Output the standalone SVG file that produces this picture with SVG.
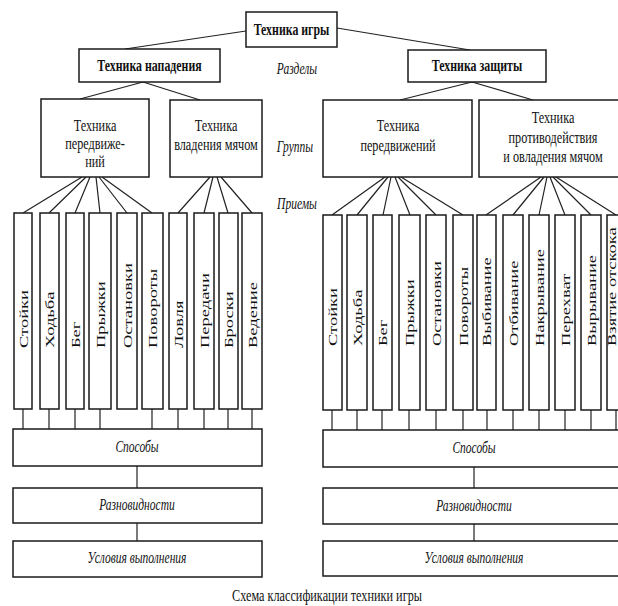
<svg xmlns="http://www.w3.org/2000/svg" width="618" height="606" viewBox="0 0 618 606">
<style>
.box{fill:#fff;stroke:#1a1a1a;stroke-width:1.5}
.ln{stroke:#222;stroke-width:1.2;fill:none}
text{font-family:"Liberation Serif","Times New Roman",serif;fill:#111}
.b{font-size:16.5px;font-weight:bold;text-anchor:middle}
.r{font-size:17px;text-anchor:middle}
.i{font-size:16px;font-style:italic;text-anchor:middle}
.v{font-size:18.5px}
</style>
<rect width="618" height="606" fill="#fff"/>
<g id="connectors" class="ln">
<path d="M246,31L125,49M337,28L470,50"/>
<path d="M143,82L80,99M143,82L200,100M472,82L400,100M472,82L533,100"/>
<path d="M82,177L23,213M86,177L49,213M90,177L75,213M96,177L100,213M99,177L127,213M102,177L152,213"/>
<path d="M210,177L178,213M213,177L204,213M217,177L228,213M221,177L252,213"/>
<path d="M385,177L332,215M388,177L357,215M391,177L383,215M395,177L410,215M398,177L436,215M401,177L463,215"/>
<path d="M541,177L486,215M544,177L513,215M547,177L539,215M550,177L565,215M553,177L591,215M556,177L616,215"/>
<path d="M23,409V429M49,409V429M75,409V429M100,409V429M152,409V429M178,409V429M204,409V429M228,409V429M252,409V429"/>
<path d="M332,410V430M357,410V430M382,410V430M409,410V430M436,410V430M463,410V430M487,410V430M513,410V430M539,410V430M565,410V430M591,410V430M616,410V430"/>
<path d="M137,466V488M137,523V541M474,467V488M474,524V541"/>
</g>
<g id="root"><rect class="box" x="246" y="12" width="91" height="35"/><text class="b" transform="translate(291.5,35) scale(0.72,1)">Техника игры</text></g>
<g id="attack"><rect class="box" x="79" y="49" width="141" height="33"/><text class="b" transform="translate(149.5,71) scale(0.72,1)">Техника нападения</text></g>
<g id="defense"><rect class="box" x="408" y="50" width="138" height="32"/><text class="b" transform="translate(477,71) scale(0.72,1)">Техника защиты</text></g>
<g id="labels">
<text class="i" transform="translate(297,74) scale(0.72,1)">Разделы</text>
<text class="i" transform="translate(295,152) scale(0.72,1)">Группы</text>
<text class="i" transform="translate(297,209) scale(0.72,1)">Приемы</text>
</g>
<g id="g-att-move"><rect class="box" x="41" y="99" width="108" height="78"/><text class="r" transform="translate(95,131) scale(0.72,1)"><tspan x="0">Техника</tspan><tspan x="0" dy="18">передвиже-</tspan><tspan x="0" dy="18">ний</tspan></text></g>
<g id="g-att-ball"><rect class="box" x="170" y="100" width="92" height="77"/><text class="r" transform="translate(216,131) scale(0.72,1)"><tspan x="0">Техника</tspan><tspan x="0" dy="19">владения мячом</tspan></text></g>
<g id="g-def-move"><rect class="box" x="323" y="100" width="149" height="77"/><text class="r" transform="translate(398,131) scale(0.72,1)"><tspan x="0">Техника</tspan><tspan x="0" dy="20">передвижений</tspan></text></g>
<g id="g-def-ball"><rect class="box" x="479" y="100" width="147" height="77"/><text class="r" transform="translate(553,123) scale(0.72,1)"><tspan x="0">Техника</tspan><tspan x="0" dy="20">противодействия</tspan><tspan x="0" dy="19">и овладения мячом</tspan></text></g>
<g id="cols-left">
<g id="c-l1"><rect class="box" x="14" y="213" width="18" height="196"/><text class="v" transform="translate(27.5,348) rotate(-90) scale(1,0.7)">Стойки</text></g>
<g id="c-l2"><rect class="box" x="40" y="213" width="19" height="196"/><text class="v" transform="translate(54,348) rotate(-90) scale(1,0.7)">Ходьба</text></g>
<g id="c-l3"><rect class="box" x="66" y="213" width="18" height="196"/><text class="v" transform="translate(79.5,348) rotate(-90) scale(1,0.7)">Бег</text></g>
<g id="c-l4"><rect class="box" x="89" y="213" width="22" height="196"/><text class="v" transform="translate(104.5,348) rotate(-90) scale(1,0.7)">Прыжки</text></g>
<g id="c-l5"><rect class="box" x="117" y="213" width="20" height="196"/><text class="v" transform="translate(131.5,348) rotate(-90) scale(1,0.7)">Остановки</text></g>
<g id="c-l6"><rect class="box" x="142" y="213" width="21" height="196"/><text class="v" transform="translate(157,348) rotate(-90) scale(1,0.7)">Повороты</text></g>
<g id="c-l7"><rect class="box" x="169" y="213" width="18" height="196"/><text class="v" transform="translate(182.5,348) rotate(-90) scale(1,0.7)">Ловля</text></g>
<g id="c-l8"><rect class="box" x="194" y="213" width="20" height="196"/><text class="v" transform="translate(208.5,348) rotate(-90) scale(1,0.7)">Передачи</text></g>
<g id="c-l9"><rect class="box" x="219" y="213" width="19" height="196"/><text class="v" transform="translate(233,348) rotate(-90) scale(1,0.7)">Броски</text></g>
<g id="c-l10"><rect class="box" x="242" y="213" width="20" height="196"/><text class="v" transform="translate(256.5,348) rotate(-90) scale(1,0.7)">Ведение</text></g>
</g>
<g id="cols-right">
<g id="c-r1"><rect class="box" x="323" y="215" width="19" height="195"/><text class="v" transform="translate(337,346) rotate(-90) scale(1,0.7)">Стойки</text></g>
<g id="c-r2"><rect class="box" x="347" y="215" width="20" height="195"/><text class="v" transform="translate(361.5,346) rotate(-90) scale(1,0.7)">Ходьба</text></g>
<g id="c-r3"><rect class="box" x="373" y="215" width="19" height="195"/><text class="v" transform="translate(387,346) rotate(-90) scale(1,0.7)">Бег</text></g>
<g id="c-r4"><rect class="box" x="399" y="215" width="21" height="195"/><text class="v" transform="translate(414,346) rotate(-90) scale(1,0.7)">Прыжки</text></g>
<g id="c-r5"><rect class="box" x="426" y="215" width="20" height="195"/><text class="v" transform="translate(440.5,346) rotate(-90) scale(1,0.7)">Остановки</text></g>
<g id="c-r6"><rect class="box" x="453" y="215" width="20" height="195"/><text class="v" transform="translate(467.5,346) rotate(-90) scale(1,0.7)">Повороты</text></g>
<g id="c-r7"><rect class="box" x="477" y="215" width="19" height="195"/><text class="v" transform="translate(491,346) rotate(-90) scale(1,0.7)">Выбивание</text></g>
<g id="c-r8"><rect class="box" x="503" y="215" width="20" height="195"/><text class="v" transform="translate(517.5,346) rotate(-90) scale(1,0.7)">Отбивание</text></g>
<g id="c-r9"><rect class="box" x="529" y="215" width="20" height="195"/><text class="v" transform="translate(543.5,346) rotate(-90) scale(1,0.7)">Накрывание</text></g>
<g id="c-r10"><rect class="box" x="555" y="215" width="20" height="195"/><text class="v" transform="translate(569.5,346) rotate(-90) scale(1,0.7)">Перехват</text></g>
<g id="c-r11"><rect class="box" x="581" y="215" width="20" height="195"/><text class="v" transform="translate(595.5,346) rotate(-90) scale(1,0.7)">Вырывание</text></g>
<g id="c-r12"><rect class="box" x="607" y="215" width="20" height="195"/><text class="v" transform="translate(616,346) rotate(-90) scale(1,0.7)">Взятие отскока</text></g>
</g>
<g id="ways-l"><rect class="box" x="13" y="429" width="249" height="37"/><text class="i" transform="translate(137,452) scale(0.72,1)">Способы</text></g>
<g id="kinds-l"><rect class="box" x="13" y="488" width="249" height="35"/><text class="i" transform="translate(137,510) scale(0.72,1)">Разновидности</text></g>
<g id="cond-l"><rect class="box" x="13" y="541" width="249" height="36"/><text class="i" transform="translate(137,563) scale(0.72,1)">Условия выполнения</text></g>
<g id="ways-r"><rect class="box" x="323" y="430" width="303" height="37"/><text class="i" transform="translate(474,453) scale(0.72,1)">Способы</text></g>
<g id="kinds-r"><rect class="box" x="323" y="488" width="303" height="36"/><text class="i" transform="translate(474,511) scale(0.72,1)">Разновидности</text></g>
<g id="cond-r"><rect class="box" x="323" y="541" width="303" height="35"/><text class="i" transform="translate(474,563) scale(0.72,1)">Условия выполнения</text></g>
<text class="r" transform="translate(327,601) scale(0.72,1)">Схема классификации техники игры</text>
</svg>
